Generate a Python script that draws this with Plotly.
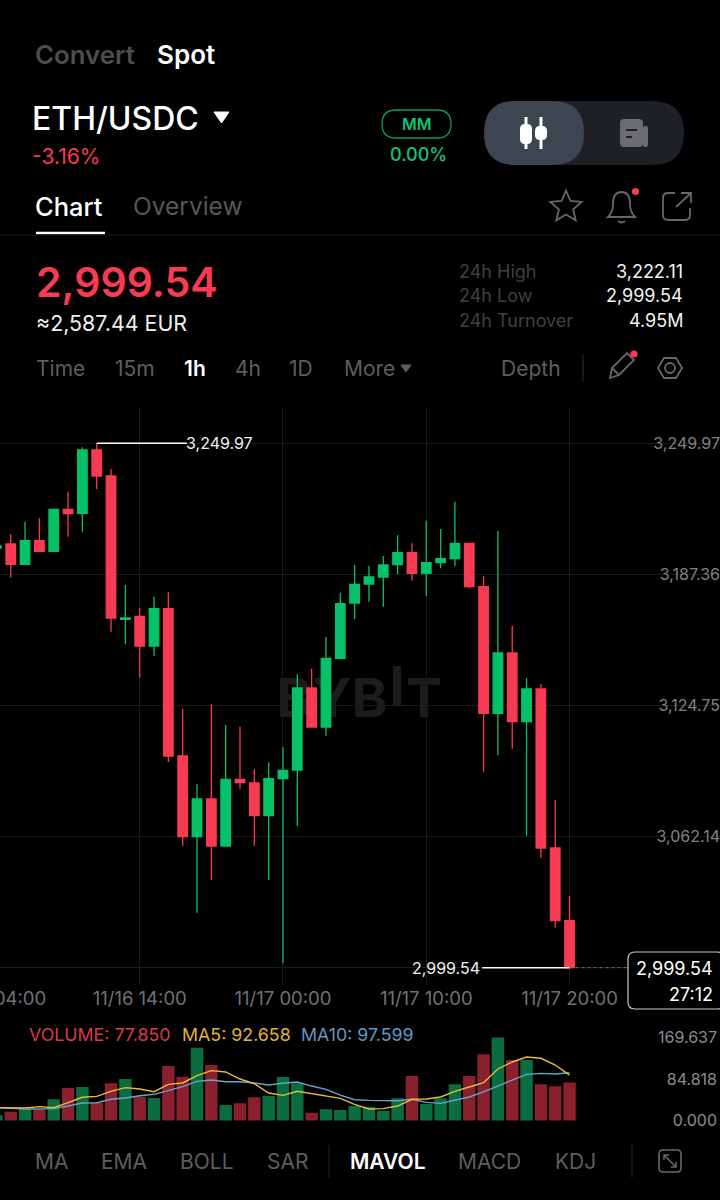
import numpy as np
import pandas as pd
import plotly.graph_objects as go

# ----- DATA -----
dates = pd.date_range("2024-11-16 04:00", "2024-11-17 20:00", freq="h")
opens = [3199.97, 3201.88, 3192.18, 3203.46, 3198.39, 3218.45, 3216.54, 3246.77, 3234.35, 3165.92,
         3167.35, 3153.17, 3170.98, 3100.64, 3062.10, 3080.10, 3057.66, 3089.51, 3087.74, 3072.13,
         3089.79, 3093.95, 3133.11, 3114.49, 3147.30, 3173.70, 3182.77, 3186.12, 3191.99, 3197.73,
         3187.89, 3192.95, 3194.86, 3202.21, 3181.49, 3121.03, 3149.83, 3117.02, 3132.64, 3056.70,
         3021.98]
highs = [3201.20, 3206.66, 3212.53, 3214.15, 3218.74, 3226.86, 3248.06, 3249.97, 3237.55, 3182.30,
         3171.46, 3176.71, 3178.81, 3123.08, 3087.27, 3125.33, 3115.44, 3114.63, 3094.29, 3097.63,
         3104.79, 3139.65, 3142.33, 3157.47, 3178.62, 3191.85, 3191.52, 3196.15, 3206.04, 3202.21,
         3213.01, 3209.04, 3222.08, 3202.21, 3186.60, 3208.09, 3162.72, 3137.89, 3134.98, 3079.62,
         3033.78]
lows = [3199.70, 3185.79, 3192.18, 3198.39, 3198.39, 3205.37, 3207.75, 3228.15, 3160.00, 3153.98,
        3138.03, 3148.54, 3097.78, 3057.80, 3025.80, 3041.42, 3057.66, 3085.02, 3057.80, 3041.42,
        3001.64, 3067.20, 3114.49, 3110.33, 3146.82, 3166.06, 3174.33, 3171.94, 3187.55, 3184.35,
        3177.05, 3190.27, 3191.37, 3180.72, 3093.14, 3100.97, 3104.12, 3062.58, 3052.07, 3018.64,
        2999.54]
closes = [3200.93, 3192.18, 3203.46, 3198.39, 3218.45, 3216.35, 3246.77, 3234.35, 3166.54, 3166.54,
          3153.17, 3170.98, 3100.64, 3062.10, 3080.10, 3057.66, 3089.51, 3087.88, 3072.13, 3089.79,
          3093.81, 3133.11, 3114.49, 3147.30, 3173.37, 3182.63, 3186.12, 3191.85, 3197.73, 3187.89,
          3192.95, 3194.86, 3202.21, 3181.49, 3121.03, 3149.83, 3117.02, 3132.64, 3056.70, 3021.98,
          2999.54]
volumes = [11.2, 18.0, 22.8, 21.5, 43.3, 66.4, 68.5, 36.4, 76.0, 84.8,
           48.6, 46.0, 111.4, 89.5, 148.8, 113.4, 31.7, 35.1, 47.4, 50.0,
           88.9, 76.0, 16.0, 22.9, 21.5, 29.6, 28.2, 20.0, 45.4, 90.9,
           33.7, 45.4, 74.0, 90.9, 135.3, 169.6, 123.6, 123.6, 74.0, 69.9,
           77.85]
ma5 = [26.2, 25.6, 25.6, 28.3, 26.2, 36.4, 47.4, 49.4, 59.6, 67.1,
       64.4, 58.9, 73.9, 76.7, 91.7, 101.9, 99.2, 84.8, 75.2, 56.2,
       51.4, 59.6, 54.8, 51.4, 45.3, 33.1, 23.5, 24.2, 29.6, 43.3,
       44.0, 48.1, 59.6, 68.5, 77.3, 105.3, 119.6, 129.8, 127.1, 113.4,
       92.658]
ma10 = [26.2, 24.2, 23.5, 23.5, 24.2, 29.6, 35.7, 36.4, 43.3, 46.0,
        50.7, 53.5, 61.6, 69.1, 80.0, 82.7, 79.3, 79.3, 76.7, 72.6,
        76.0, 78.7, 70.4, 63.6, 52.0, 42.5, 41.1, 40.4, 40.4, 43.3,
        37.1, 35.1, 41.9, 48.1, 58.3, 71.2, 82.7, 94.3, 96.4, 95.0,
        97.599]

price_ticks = [3249.97, 3187.36, 3124.75, 3062.14, 2999.54]
price_labels = ["3,249.97", "3,187.36", "3,124.75", "3,062.14", ""]
time_ticks = ["2024-11-16 14:00", "2024-11-17 00:00", "2024-11-17 10:00", "2024-11-17 20:00"]
time_labels = ["11/16 14:00", "11/17 00:00", "11/17 10:00", "11/17 20:00"]
vol_ticks = [0, 84.818, 169.637]
vol_labels = ["0.000", "84.818", "169.637"]

GREEN = "#06c167"
RED = "#f73b52"
GREY = "#65676b"
DIM = "#3f4144"
FONT = "Inter"

x_range = ["2024-11-16 04:15", "2024-11-18 06:30"]
bar_colors = ["#0b6d3f" if c >= o else "#8a1f2d" for o, c in zip(opens, closes)]

fig = go.Figure()

# watermark on the pixel axes, so it stays behind the candles
fig.add_trace(go.Scatter(x=[332, 397, 424], y=[703, 691, 703], mode="text", text=["BYB", "I", "T"],
                         textfont=dict(family=FONT, size=54, color="#1c1c1c", weight=700),
                         hoverinfo="skip", xaxis="x", yaxis="y"))

fig.add_trace(go.Candlestick(x=dates, open=opens, high=highs, low=lows, close=closes,
                             increasing=dict(line=dict(color=GREEN, width=1.3), fillcolor=GREEN),
                             decreasing=dict(line=dict(color=RED, width=1.3), fillcolor=RED),
                             xaxis="x2", yaxis="y2"))

fig.add_trace(go.Bar(x=dates, y=volumes, marker=dict(color=bar_colors, line_width=0), xaxis="x3", yaxis="y3"))
fig.add_trace(go.Scatter(x=dates, y=ma10, mode="lines", line=dict(color="#6aa3c8", width=1.4), xaxis="x3", yaxis="y3"))
fig.add_trace(go.Scatter(x=dates, y=ma5, mode="lines", line=dict(color="#eab93f", width=1.4), xaxis="x3", yaxis="y3"))

annotations = []
shapes = []


def label(x, y, text, size, color, anchor="left", weight=400):
    # annotations carry a small padding, pull it back so x is where the glyphs start or end
    shift = {"left": -2, "right": 2, "center": 0}[anchor]
    annotations.append(dict(x=x, y=y, xref="x", yref="y", text=text, showarrow=False, xanchor=anchor, xshift=shift,
                            yanchor="middle", font=dict(family=FONT, size=size, color=color, weight=weight)))


def rect(x0, y0, x1, y1, r, fill="rgba(0,0,0,0)", line=None, width=1.5):
    path = (f"M{x0 + r},{y0} L{x1 - r},{y0} Q{x1},{y0} {x1},{y0 + r} L{x1},{y1 - r} Q{x1},{y1} {x1 - r},{y1} "
            f"L{x0 + r},{y1} Q{x0},{y1} {x0},{y1 - r} L{x0},{y0 + r} Q{x0},{y0} {x0 + r},{y0} Z")
    outline = dict(color=line, width=width) if line else dict(width=0)
    shapes.append(dict(type="path", path=path, xref="x", yref="y", fillcolor=fill, line=outline))


def stroke(path, color=GREY, width=1.8, fill="rgba(0,0,0,0)"):
    shapes.append(dict(type="path", path=path, xref="x", yref="y", line=dict(color=color, width=width), fillcolor=fill))


def hline(x0, x1, y, color, width=1.0):
    shapes.append(dict(type="line", x0=x0, x1=x1, y0=y, y1=y, xref="x", yref="y", line=dict(color=color, width=width)))


def vline(x, y0, y1, color, width=1.0):
    shapes.append(dict(type="line", x0=x, x1=x, y0=y0, y1=y1, xref="x", yref="y", line=dict(color=color, width=width)))


def dot(x, y, r, color):
    shapes.append(dict(type="circle", x0=x - r, x1=x + r, y0=y - r, y1=y + r, xref="x", yref="y",
                       fillcolor=color, line=dict(width=0)))


# ----- HEADER -----
label(35, 54, "Convert", 25.8, "#4b4d50", weight=600)
label(157, 54, "Spot", 26, "#ffffff", weight=600)
label(32, 118, "ETH/USDC", 32, "#ffffff", weight=500)
stroke("M214,112 L229,112 L221.5,123 Z", "#ffffff", 1, "#ffffff")
label(32, 156, "-3.16%", 21, RED)

rect(382, 110, 451, 138, 14, line="#0b9e5c", width=1.3)
label(416.5, 124, "MM", 16, "#12c477", "center", 600)
label(418, 154, "0.00%", 18, "#12c477", "center", 500)

rect(484, 101, 684, 165, 32, fill="#1d2025")
rect(484, 101, 584, 165, 32, fill="#3d4550")
for cx in [526, 541]:
    vline(cx, 117, 149, "#ffffff", 3)
    rect(cx - 6, 124 if cx == 526 else 126, cx + 6, 144 if cx == 526 else 140, 5, fill="#ffffff")
rect(620, 119, 643, 147, 4, fill="#6b6d72")
rect(643, 126, 648, 147, 2, fill="#6b6d72")
hline(626, 637, 130, "#1d2025", 2)
hline(626, 632, 137, "#1d2025", 2)

label(35, 206, "Chart", 25.5, "#ffffff", weight=500)
label(133, 206, "Overview", 24.5, "#55575b")
hline(36, 105, 233, "#ffffff", 2.5)
hline(0, 720, 235, "#1c1c1c", 1.2)

# star
angles = -np.pi / 2 + np.arange(10) * np.pi / 5
radii = np.where(np.arange(10) % 2 == 0, 16.5, 7.5)
pts = [f"{566 + r * np.cos(a):.1f},{207 + r * np.sin(a):.1f}" for r, a in zip(radii, angles)]
stroke("M" + " L".join(pts) + " Z")
# bell
stroke("M608,217 L635,217 Q630,212 630,204 Q630,192 621.5,192 Q613,192 613,204 Q613,212 608,217 Z")
stroke("M618,221 Q621.5,224 625,221")
dot(635.5, 191.5, 3.6, RED)
# external link
stroke("M675,193 L668,193 Q663,193 663,198 L663,215 Q663,220 668,220 L685,220 Q690,220 690,215 L690,208")
stroke("M676,207 L691,193 M681,193 L691,193 L691,203")

label(36, 282, "2,999.54", 41, RED, weight=600)
label(36, 323, "≈2,587.44 EUR", 21.4, "#f0f0f0")

for y, name, value in zip([271, 295, 320], ["24h High", "24h Low", "24h Turnover"], ["3,222.11", "2,999.54", "4.95M"]):
    label(459, y, name, 18, DIM)
    label(683, y, value, 18, "#f2f2f2", "right")

for x, name in zip([36, 115, 235, 289, 344, 501], ["Time", "15m", "4h", "1D", "More", "Depth"]):
    label(x, 368, name, 21, "#5c5e62")
label(184, 368, "1h", 21, "#ffffff", weight=600)
stroke("M401,365 L411,365 L406,372 Z", "#5c5e62", 1, "#5c5e62")
vline(583, 355, 381, "#2b2b2b", 1.2)
stroke("M610,378 L612,368 L627,353 L634,360 L619,375 Z M612,368 L619,375")
dot(634, 354, 3.6, RED)
stroke("M658,368 L664,358 L676,358 L682,368 L676,378 L664,378 Z")
shapes.append(dict(type="circle", x0=665, x1=675, y0=363, y1=373, xref="x", yref="y", line=dict(color=GREY, width=1.8)))

# ----- CHART LABELS -----
annotations.append(dict(x=-3 / 720, y=1 - 998 / 1200, xref="paper", yref="paper", text="11/16 04:00", showarrow=False,
                        xanchor="center", yanchor="middle", font=dict(family=FONT, size=18.5, color="#707276")))

hi = int(np.argmax(highs))
hi_end = dates[hi] + pd.Timedelta(hours=6.3)
shapes.append(dict(type="line", x0=dates[hi], x1=hi_end, y0=highs[hi], y1=highs[hi], xref="x2", yref="y2",
                   line=dict(color="#ffffff", width=1.6)))
annotations.append(dict(x=hi_end, y=highs[hi], xref="x2", yref="y2", text=f"{highs[hi]:,.2f}", showarrow=False,
                        xanchor="left", yanchor="middle", xshift=-3, font=dict(family=FONT, size=16, color="#f2f2f2")))

lo_start = dates[-1] - pd.Timedelta(hours=6.1)
shapes.append(dict(type="line", x0=lo_start, x1=dates[-1], y0=lows[-1], y1=lows[-1], xref="x2", yref="y2",
                   line=dict(color="#ffffff", width=1.6)))
annotations.append(dict(x=lo_start, y=lows[-1], xref="x2", yref="y2", text=f"{lows[-1]:,.2f}", showarrow=False,
                        xanchor="right", yanchor="middle", xshift=0, font=dict(family=FONT, size=16, color="#f2f2f2")))
shapes.append(dict(type="line", x0=dates[-1], x1=dates[-1] + pd.Timedelta(hours=4), y0=closes[-1], y1=closes[-1],
                   xref="x2", yref="y2", line=dict(color="#777777", width=1, dash="3px,3px")))

rect(628, 952, 724, 1009, 7, fill="#000000", line="#c8c8c8", width=1.2)
label(713, 968, f"{closes[-1]:,.2f}", 18, "#ffffff", "right")
label(713, 994, "27:12", 18, "#ffffff", "right")

# ----- VOLUME LABELS -----
label(29, 1034, f"VOLUME: {volumes[-1]:.3f}", 17.8, "#d93a4c")
label(182, 1034, f"MA5: {ma5[-1]:.3f}", 17.8, "#e0b03a")
label(301, 1034, f"MA10: {ma10[-1]:.3f}", 17.8, "#5f9ac0")

# ----- BOTTOM TABS -----
for x, name in zip([35, 101, 180, 267, 458, 555], ["MA", "EMA", "BOLL", "SAR", "MACD", "KDJ"]):
    label(x, 1161, name, 21, "#5c5e62")
label(350, 1161, "MAVOL", 21, "#ffffff", weight=600)
vline(329, 1145, 1178, "#1e1e1e", 1.2)
vline(632, 1145, 1178, "#1e1e1e", 1.2)
rect(659, 1150, 681, 1172, 4, line=GREY, width=1.6)
stroke("M664,1155 L676,1167 M664,1160 L664,1155 L669,1155 M676,1162 L676,1167 L671,1167", GREY, 1.5)

hidden = dict(visible=False, fixedrange=True)
fig.update_layout(
    width=720, height=1200,
    margin=dict(l=0, r=0, t=0, b=0),
    paper_bgcolor="#000000", plot_bgcolor="rgba(0,0,0,0)",
    showlegend=False, boxgap=0.05, bargap=0.13,
    font=dict(family=FONT, color="#707276"),
    xaxis=dict(range=[0, 720], domain=[0, 1], **hidden),
    yaxis=dict(range=[1200, 0], domain=[0, 1], **hidden),
    xaxis2=dict(type="date", range=x_range, domain=[0, 1], anchor="y2", tickvals=time_ticks, ticktext=time_labels,
                rangeslider=dict(visible=False), showgrid=True, gridcolor="#1a1a1a", gridwidth=1, zeroline=False,
                showline=False, ticks="", tickfont=dict(family=FONT, size=18.5, color="#707276")),
    yaxis2=dict(range=[2991.28, 3266.83], domain=[1 - 985 / 1200, 1 - 408 / 1200], anchor="x2", side="right",
                tickvals=price_ticks, ticktext=price_labels, ticklabelposition="inside", ticklabelstandoff=-3,
                showgrid=True, gridcolor="#1a1a1a", gridwidth=1, zeroline=False, showline=False, ticks="",
                tickfont=dict(family=FONT, size=16, color="#808184")),
    xaxis3=dict(type="date", range=x_range, domain=[0, 1], anchor="y3", showticklabels=False, showgrid=False,
                zeroline=False, showline=False, ticks=""),
    # domain runs past the 0 and 169.637 levels so the end labels are not dropped
    yaxis3=dict(range=[-20.44, 210.51], domain=[1 - 1130.5 / 1200, 1 - 1017.5 / 1200], anchor="x3", side="right",
                tickvals=vol_ticks, ticktext=vol_labels, ticklabelposition="inside", showgrid=False,
                zeroline=False, showline=False, ticks="", tickfont=dict(family=FONT, size=16, color="#8a8c90")),
    annotations=annotations,
    shapes=shapes,
)

fig.write_html("out.html", config={"displayModeBar": False},
               post_script="document.body.style.margin='0';document.body.style.background='#000';")
